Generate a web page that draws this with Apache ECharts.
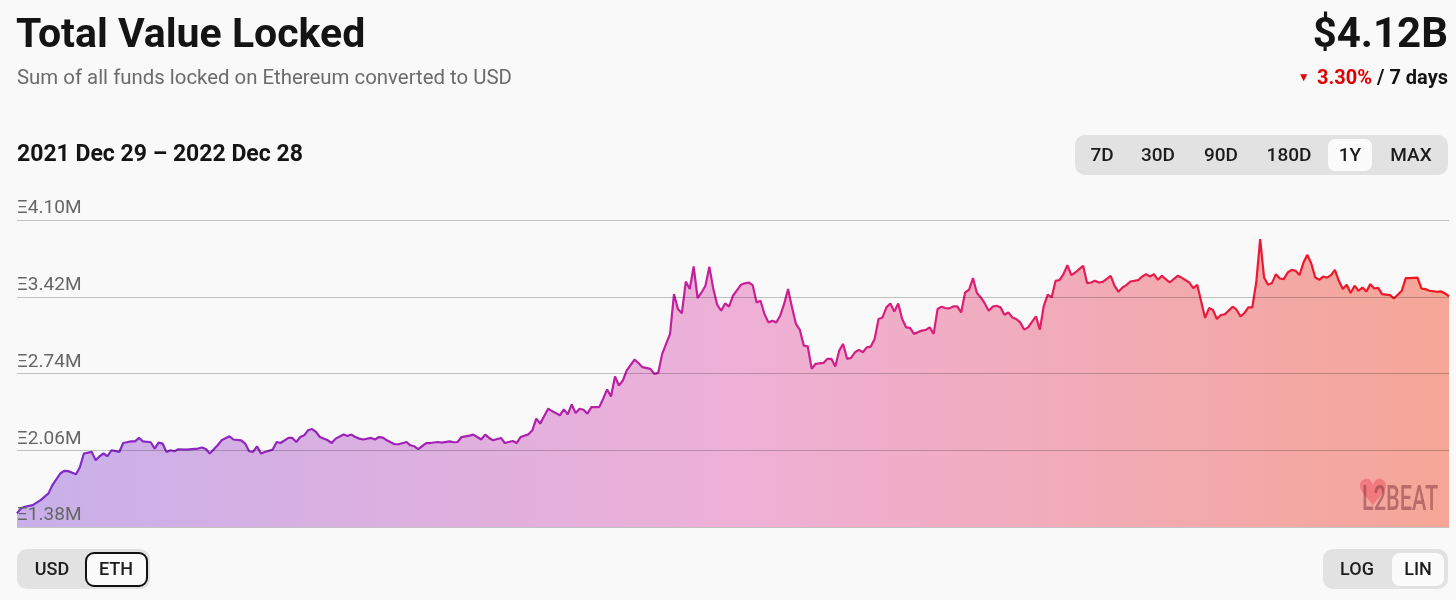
<!DOCTYPE html>
<html>
<head>
<meta charset="utf-8">
<script src="https://cdn.jsdelivr.net/npm/echarts@6/dist/echarts.min.js"></script>
<style>
  html, body { margin: 0; padding: 0; background: #f9f9f9; }
  #chart { width: 1456px; height: 600px; }
</style>
</head>
<body>
<div id="chart"></div>
<script>
// days since 2021 Dec 29
const days = [
  0, 1, 2, 4, 6, 8, 9, 11, 12, 13, 15, 16, 17, 19, 20, 21, 22, 23, 24, 26,
  27, 29, 30, 31, 32, 34, 35, 36, 37, 38, 39, 40, 41, 43, 46, 47, 48, 49, 51, 52,
  54, 55, 57, 58, 59, 60, 61, 62, 63, 65, 66, 67, 69, 70, 71, 72, 73, 74, 75, 76,
  77, 79, 80, 81, 83, 84, 85, 86, 87, 88, 90, 91, 92, 93, 94, 96, 97, 99, 100, 101,
  102, 104, 105, 107, 108, 110, 111, 112, 113, 115, 116, 118, 119, 120, 121, 123, 124, 126, 127, 128,
  130, 131, 132, 133, 135, 136, 138, 139, 140, 141, 142, 143, 144, 145, 146, 148, 149, 150, 151, 152,
  153, 154, 155, 157, 158, 159, 161, 162, 163, 164, 166, 167, 168, 169, 170, 171, 172, 173, 174, 175,
  176, 177, 178, 179, 180, 181, 182, 184, 185, 186, 187, 188, 189, 190, 191, 192, 193, 194, 195, 196,
  197, 198, 199, 200, 201, 202, 203, 205, 206, 207, 208, 209, 210, 211, 212, 213, 214, 215, 216, 217,
  218, 219, 220, 221, 222, 223, 224, 225, 226, 227, 228, 230, 231, 232, 233, 234, 235, 236, 237, 238,
  239, 240, 241, 242, 243, 244, 245, 246, 247, 248, 249, 250, 251, 252, 253, 254, 255, 256, 257, 259,
  260, 261, 262, 263, 264, 265, 266, 267, 268, 269, 270, 271, 272, 273, 274, 275, 276, 278, 279, 280,
  281, 282, 283, 285, 286, 287, 288, 289, 290, 291, 292, 293, 295, 296, 298, 299, 300, 302, 303, 304,
  305, 306, 307, 309, 310, 311, 312, 313, 314, 315, 316, 317, 318, 319, 320, 321, 322, 323, 324, 325,
  326, 327, 328, 329, 330, 331, 332, 333, 334, 335, 336, 337, 338, 339, 340, 341, 342, 343, 344, 345,
  346, 347, 349, 350, 352, 353, 354, 356, 357, 358, 359, 361, 362, 363, 364
];
// TVL in million ETH
const tvlEth = [
  1.501, 1.545, 1.559, 1.574, 1.618, 1.678, 1.751, 1.854, 1.877, 1.875, 1.848, 1.912, 2.031, 2.045, 1.972, 2.007, 2.031, 2.007, 2.060, 2.045,
  2.124, 2.139, 2.139, 2.169, 2.139, 2.131, 2.075, 2.128, 2.119, 2.045, 2.060, 2.051, 2.069, 2.066, 2.075, 2.084, 2.071, 2.031, 2.104, 2.148,
  2.184, 2.155, 2.148, 2.119, 2.051, 2.045, 2.095, 2.031, 2.045, 2.066, 2.133, 2.124, 2.169, 2.169, 2.133, 2.177, 2.192, 2.237, 2.248, 2.222,
  2.177, 2.148, 2.124, 2.163, 2.199, 2.186, 2.199, 2.177, 2.163, 2.155, 2.169, 2.155, 2.177, 2.172, 2.148, 2.113, 2.113, 2.133, 2.104, 2.095,
  2.069, 2.124, 2.124, 2.133, 2.128, 2.139, 2.131, 2.133, 2.177, 2.190, 2.199, 2.155, 2.199, 2.169, 2.148, 2.169, 2.124, 2.142, 2.124, 2.177,
  2.201, 2.237, 2.340, 2.296, 2.428, 2.407, 2.369, 2.422, 2.378, 2.466, 2.389, 2.428, 2.419, 2.384, 2.442, 2.442, 2.517, 2.599, 2.537, 2.713,
  2.634, 2.678, 2.767, 2.864, 2.831, 2.796, 2.781, 2.737, 2.746, 2.914, 3.091, 3.444, 3.311, 3.273, 3.555, 3.488, 3.688, 3.409, 3.458, 3.517,
  3.685, 3.488, 3.347, 3.296, 3.361, 3.332, 3.429, 3.526, 3.539, 3.546, 3.523, 3.370, 3.385, 3.267, 3.193, 3.208, 3.193, 3.252, 3.356, 3.488,
  3.326, 3.179, 3.126, 2.987, 2.981, 2.781, 2.826, 2.834, 2.870, 2.870, 2.802, 2.943, 3.002, 2.870, 2.879, 2.928, 2.949, 2.928, 2.972, 2.978,
  3.046, 3.223, 3.237, 3.326, 3.361, 3.288, 3.361, 3.223, 3.149, 3.144, 3.091, 3.120, 3.126, 3.149, 3.091, 3.311, 3.332, 3.320, 3.317, 3.334,
  3.334, 3.281, 3.458, 3.482, 3.585, 3.453, 3.414, 3.361, 3.296, 3.332, 3.340, 3.326, 3.261, 3.281, 3.237, 3.223, 3.193, 3.129, 3.149, 3.246,
  3.129, 3.340, 3.438, 3.414, 3.561, 3.567, 3.620, 3.700, 3.612, 3.635, 3.665, 3.694, 3.541, 3.546, 3.561, 3.546, 3.552, 3.605, 3.517, 3.464,
  3.502, 3.523, 3.555, 3.567, 3.599, 3.620, 3.599, 3.620, 3.570, 3.605, 3.576, 3.546, 3.605, 3.590, 3.546, 3.497, 3.526, 3.232, 3.320, 3.302,
  3.223, 3.258, 3.264, 3.332, 3.305, 3.246, 3.276, 3.326, 3.326, 3.546, 3.930, 3.590, 3.526, 3.541, 3.620, 3.582, 3.576, 3.635, 3.658, 3.650,
  3.612, 3.723, 3.791, 3.714, 3.590, 3.570, 3.599, 3.590, 3.612, 3.658, 3.561, 3.488, 3.526, 3.453, 3.517, 3.473, 3.502, 3.467, 3.532, 3.493,
  3.499, 3.444, 3.435, 3.405, 3.473, 3.585, 3.585, 3.590, 3.493, 3.488, 3.473, 3.464, 3.467, 3.449, 3.423
];
const yTicks = [1.38, 2.06, 2.74, 3.42, 4.10];
const ranges = ['7D', '30D', '90D', '180D', '1Y', 'MAX'];
const rangeX = [1102, 1158, 1221, 1289, 1350, 1411];

const FONT = 'Roboto, "Noto Sans", sans-serif';
const chart = echarts.init(document.getElementById('chart'), null, { renderer: 'canvas' });

const seriesData = days.map((d, i) => [d, tvlEth[i]]);

function rangeGraphics () {
    let items = [
        { type: 'rect', shape: { x: 1075, y: 135, width: 373, height: 40, r: 10 }, style: { fill: '#e2e2e2' } },
        { type: 'rect', shape: { x: 1328, y: 139, width: 44, height: 32, r: 7 }, style: { fill: '#fbfbfb' } }
    ];
    ranges.forEach((r, i) => {
        items.push({
            type: 'text', x: rangeX[i], y: 156,
            style: { text: r, fill: '#1c1c1c', font: '500 19px ' + FONT, align: 'center', verticalAlign: 'middle' }
        });
    });
    return items;
}

const option = {
    backgroundColor: '#f9f9f9',
    animation: false,
    grid: { left: 17, right: 7, top: 220, bottom: 73 },
    xAxis: { type: 'value', min: 0, max: 364, show: false },
    yAxis: {
        type: 'value', min: 1.38, max: 4.10, show: false,
        splitLine: { show: false }
    },
    series: [{
        type: 'line',
        data: seriesData,
        showSymbol: false,
        smooth: false,
        lineStyle: {
            width: 2.2,
            color: new echarts.graphic.LinearGradient(0, 0, 1, 0, [
                { offset: 0, color: '#7b2ccb' },
                { offset: 0.3, color: '#a51fb5' },
                { offset: 0.5, color: '#c8209a' },
                { offset: 0.65, color: '#dc1e78' },
                { offset: 0.8, color: '#e91c45' },
                { offset: 1, color: '#f2141a' }
            ])
        },
        areaStyle: {
            opacity: 1,
            color: new echarts.graphic.LinearGradient(0, 0, 1, 0, [
                { offset: 0, color: '#c8b0ea' },
                { offset: 0.5, color: '#eeb0d7' },
                { offset: 1, color: '#f5a696' }
            ])
        },
        markLine: {
            silent: true,
            symbol: 'none',
            lineStyle: { color: 'rgba(0,0,0,0.22)', width: 1, type: 'solid' },
            label: {
                position: 'insideStartTop',
                distance: [0, 2],
                color: '#666',
                fontFamily: FONT,
                fontSize: 19,
                formatter: p => 'Ξ' + p.value.toFixed(2) + 'M'
            },
            data: yTicks.map(v => ({ yAxis: v }))
        }
    }],
    graphic: [
        { type: 'text', x: 16, y: 37, style: { text: 'Total Value Locked', fill: '#141414', font: 'bold 41px ' + FONT, verticalAlign: 'middle' } },
        { type: 'text', x: 17, y: 79, style: { text: 'Sum of all funds locked on Ethereum converted to USD', fill: '#6b6b6b', font: '20.4px ' + FONT, verticalAlign: 'middle' } },
        { type: 'text', x: 17, y: 155, style: { text: '2021 Dec 29 \u2013 2022 Dec 28', fill: '#141414', font: 'bold 23px ' + FONT, verticalAlign: 'middle' } },
        { type: 'text', x: 1448, y: 36, style: { text: '$4.12B', fill: '#141414', font: 'bold 42px ' + FONT, align: 'right', verticalAlign: 'middle' } },
        {
            type: 'text', x: 1448, y: 79,
            style: {
                text: '{tri|\u25BC} {red|3.30%}{dark| / 7 days}',
                align: 'right', verticalAlign: 'middle',
                rich: {
                    tri: { fill: '#e00000', fontSize: 12, fontFamily: FONT, padding: [0, 4, 2, 0] },
                    red: { fill: '#e00000', fontSize: 20, fontWeight: 'bold', fontFamily: FONT },
                    dark: { fill: '#141414', fontSize: 20, fontWeight: 'bold', fontFamily: FONT }
                }
            }
        },
        ...rangeGraphics(),
        // unit switch
        { type: 'rect', shape: { x: 17, y: 549, width: 133, height: 40, r: 10 }, style: { fill: '#e2e2e2' } },
        { type: 'rect', shape: { x: 86, y: 553, width: 61, height: 33, r: 8 }, style: { fill: '#fbfbfb', stroke: '#111', lineWidth: 2 } },
        { type: 'text', x: 52, y: 570, style: { text: 'USD', fill: '#1c1c1c', font: '500 18px ' + FONT, align: 'center', verticalAlign: 'middle' } },
        { type: 'text', x: 116, y: 570, style: { text: 'ETH', fill: '#1c1c1c', font: '500 18px ' + FONT, align: 'center', verticalAlign: 'middle' } },
        // scale switch
        { type: 'rect', shape: { x: 1323, y: 549, width: 125, height: 40, r: 10 }, style: { fill: '#e2e2e2' } },
        { type: 'rect', shape: { x: 1392, y: 553, width: 52, height: 33, r: 8 }, style: { fill: '#fbfbfb' } },
        { type: 'text', x: 1357, y: 570, style: { text: 'LOG', fill: '#1c1c1c', font: '500 18px ' + FONT, align: 'center', verticalAlign: 'middle' } },
        { type: 'text', x: 1418, y: 570, style: { text: 'LIN', fill: '#1c1c1c', font: '500 18px ' + FONT, align: 'center', verticalAlign: 'middle' } },
        // watermark
        { type: 'text', x: 1373, y: 496, z: 10, style: { text: '\u2665', fill: 'rgba(240,90,105,0.6)', font: '36px "DejaVu Sans"', align: 'center', verticalAlign: 'middle' } },
        { type: 'text', x: 1362, y: 501, z: 11, scaleX: 0.62, style: { text: 'L2BEAT', fill: 'rgba(125,50,60,0.5)', font: '500 35px ' + FONT, verticalAlign: 'middle' } }
    ]
};
chart.setOption(option);
</script>
</body>
</html>
